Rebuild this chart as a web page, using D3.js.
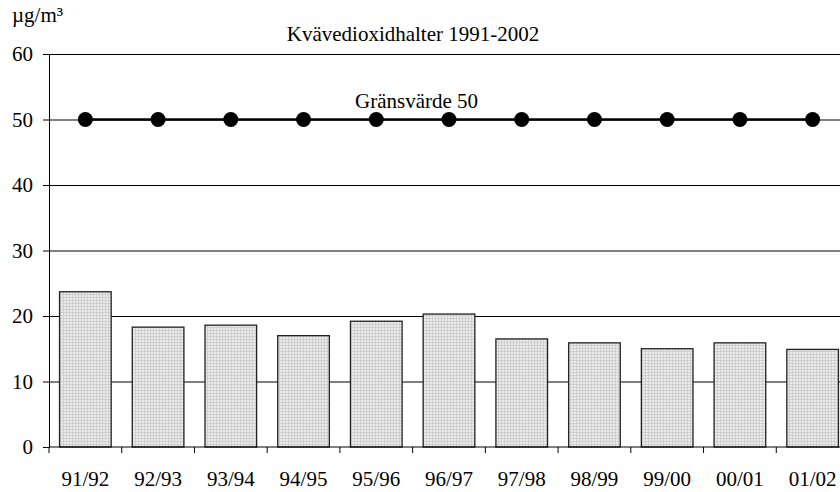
<!DOCTYPE html>
<html>
  <head>
    <meta charset="utf-8">
    <style>
      body { margin: 0; background: #ffffff; }
    </style>
  </head>
  <body>
    <svg id="chart"></svg>
  </body>
</html>

<script src="https://d3js.org/d3.v7.min.js"></script>

<script>
  const WIDTH = 840;
  const HEIGHT = 492;
  const FONT = "'Liberation Serif', 'Times New Roman', Times, serif";

  // data
  const SEASONS = ['91/92', '92/93', '93/94', '94/95', '95/96', '96/97', '97/98', '98/99', '99/00', '00/01', '01/02'];
  const NO2 = [23.7, 18.3, 18.6, 17.0, 19.2, 20.3, 16.5, 15.9, 15.0, 15.9, 14.9];
  const LIMIT = [50, 50, 50, 50, 50, 50, 50, 50, 50, 50, 50];
  const Y_TICKS = [0, 10, 20, 30, 40, 50, 60];

  const LEFT = 49;
  const RIGHT = 849;
  const TOP = 54;
  const BOTTOM = 447;

  let svg = d3.select('#chart')
    .attr('width', WIDTH)
    .attr('height', HEIGHT);

  // dotted fill for the bars
  let pat = svg.append('defs').append('pattern')
    .attr('id', 'dots')
    .attr('patternUnits', 'userSpaceOnUse')
    .attr('width', 3)
    .attr('height', 3);
  pat.append('rect').attr('width', 3).attr('height', 3).attr('fill', '#ebebeb');
  pat.append('rect').attr('width', 3).attr('height', 1).attr('fill', '#cfcfcf');
  pat.append('rect').attr('width', 1).attr('height', 3).attr('fill', '#cfcfcf');

  let x = d3.scaleBand()
    .domain(SEASONS)
    .range([LEFT, RIGHT])
    .paddingInner(0.29)
    .paddingOuter(0.145);

  let y = d3.scaleLinear()
    .domain([0, 60])
    .range([BOTTOM, TOP]);

  // gridlines
  svg.append('g')
    .attr('transform', `translate(${LEFT},0)`)
    .call(d3.axisLeft(y).tickValues(Y_TICKS.slice(1)).tickSize(-(WIDTH - LEFT)).tickFormat(''))
    .call(g => g.select('.domain').remove())
    .call(g => g.selectAll('line').attr('stroke', '#000').attr('stroke-width', 1));

  // bars
  svg.selectAll('rect.bar')
    .data(NO2)
    .enter()
    .append('rect')
    .attr('class', 'bar')
    .attr('x', (d, i) => x(SEASONS[i]))
    .attr('y', d => y(d))
    .attr('width', x.bandwidth())
    .attr('height', d => y(0) - y(d))
    .attr('fill', 'url(#dots)')
    .attr('stroke', '#222')
    .attr('stroke-width', 1.3);

  // y axis
  let yAxis = svg.append('g')
    .attr('transform', `translate(${LEFT},0)`)
    .call(d3.axisLeft(y).tickValues(Y_TICKS).tickSize(6).tickPadding(10));
  yAxis.attr('font-family', FONT).attr('font-size', 21);
  yAxis.select('.domain').attr('stroke', '#000');
  yAxis.selectAll('text').style('font-family', FONT).style('font-size', '21px').attr('fill', '#000');

  // x axis
  let xAxis = svg.append('g')
    .attr('transform', `translate(0,${BOTTOM})`)
    .call(d3.axisBottom(x).tickSize(0).tickPadding(24));
  xAxis.attr('font-family', FONT).attr('font-size', 21);
  xAxis.select('.domain').attr('stroke', '#000').attr('d', `M${LEFT},0H${WIDTH}`);
  xAxis.selectAll('text').style('font-family', FONT).style('font-size', '21px').attr('fill', '#000');

  // tick marks between categories
  svg.append('g')
    .selectAll('line')
    .data(d3.range(SEASONS.length + 1))
    .enter()
    .append('line')
    .attr('x1', i => LEFT + i * x.step())
    .attr('x2', i => LEFT + i * x.step())
    .attr('y1', BOTTOM)
    .attr('y2', BOTTOM + 6)
    .attr('stroke', '#000');

  // limit line with markers
  let line = d3.line()
    .x((d, i) => x(SEASONS[i]) + x.bandwidth() / 2)
    .y(d => y(d));

  svg.append('path')
    .datum(LIMIT)
    .attr('d', line)
    .attr('fill', 'none')
    .attr('stroke', '#000')
    .attr('stroke-width', 2.5);

  svg.selectAll('circle')
    .data(LIMIT)
    .enter()
    .append('circle')
    .attr('cx', (d, i) => x(SEASONS[i]) + x.bandwidth() / 2)
    .attr('cy', d => y(d))
    .attr('r', 7.5)
    .attr('fill', '#000');

  // labels
  function addLabel(tx, ty, str, anchor) {
    svg.append('text')
      .attr('x', tx)
      .attr('y', ty)
      .attr('text-anchor', anchor)
      .style('font-family', FONT)
      .style('font-size', '21px')
      .attr('fill', '#000')
      .text(str);
  }

  addLabel(413, 41, 'Kvävedioxidhalter 1991-2002', 'middle');
  addLabel(12, 22, 'µg/m³', 'start');
  addLabel(355, 108, 'Gränsvärde 50', 'start');
</script>
